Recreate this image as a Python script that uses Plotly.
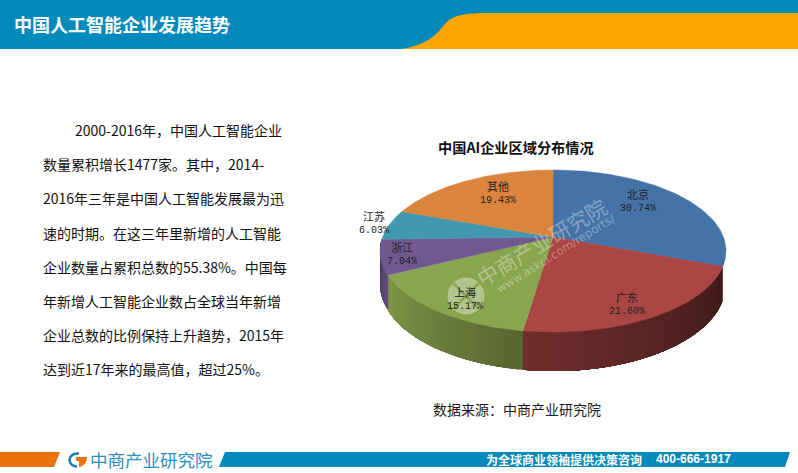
import numpy as np
import plotly.graph_objects as go

# pie data
regions = ['北京', '广东', '上海', '浙江', '江苏', '其他']
shares = [30.74, 21.60, 15.17, 7.04, 6.03, 19.43]
top_colors = ['#4572A7', '#AA4643', '#89A54E', '#71588F', '#4198AF', '#DB843D']
# side wall colours from the start of the slice to its end
side_colors = {
    1: ((62, 26, 24), (112, 46, 44)),
    2: ((88, 102, 48), (126, 150, 72)),
    3: ((96, 76, 124), (72, 56, 96)),
}

body_lines = [
    '2000-2016年，中国人工智能企业',
    '数量累积增长1477家。其中，2014-',
    '2016年三年是中国人工智能发展最为迅',
    '速的时期。在这三年里新增的人工智能',
    '企业数量占累积总数的55.38%。中国每',
    '年新增人工智能企业数占全球当年新增',
    '企业总数的比例保持上升趋势，2015年',
    '达到近17年来的最高值，超过25%。',
]

CJK = 'Noto Sans CJK SC'
TEAL = '#018ABB'
ORANGE = '#FFA500'

# perspective pie, in page pixels
CX, CY = 553, 237
RX, RY = 170.4, 78.6
TILT = 0.173
DEPTH = 32.3


def project(t, r=1.0, drop=0.0):
    # t is the clockwise angle from twelve o'clock
    u = r * np.sin(t)
    v = r * np.cos(t)
    w = 1 + TILT * v
    return CX + RX * u / w, CY + (drop - RY * v) / w


fig = go.Figure()

# side wall first, each strip runs to the slice end and the next one paints over it
bounds = np.cumsum([0] + shares) / sum(shares) * 2 * np.pi
for i, (c0, c1) in side_colors.items():
    start, end = bounds[i], bounds[i + 1]
    steps = max(4, int((end - start) / 0.02))
    edges = np.linspace(start, end, steps + 1)
    for k in range(steps):
        f = k / (steps - 1)
        rgb = [round(a + (b - a) * f) for a, b in zip(c0, c1)]
        ts = np.linspace(edges[k], end, 30)
        xt, yt = project(ts)
        xb, yb = project(ts[::-1], drop=DEPTH)
        fig.add_trace(go.Scatter(
            x=list(xt) + list(xb) + [xt[0]], y=list(yt) + list(yb) + [yt[0]],
            mode='lines', fill='toself', fillcolor='rgb(%d,%d,%d)' % tuple(rgb),
            line=dict(width=0), hoverinfo='skip'))

# top face
for i, name in enumerate(regions):
    ts = np.linspace(bounds[i], bounds[i + 1], 80)
    xs, ys = project(ts)
    fig.add_trace(go.Scatter(
        x=[CX] + list(xs) + [CX], y=[CY] + list(ys) + [CY],
        mode='lines', fill='toself', fillcolor=top_colors[i],
        line=dict(color=top_colors[i], width=0.5), name=name, hoverinfo='skip'))

annotations = []


def add_text(text, x, y, size, color='#000000', bold=False, family=CJK, xanchor='center', angle=0):
    if bold:
        text = '<b>' + text + '</b>'
    annotations.append(dict(
        text=text, x=x, y=y, xref='x', yref='y', xanchor=xanchor, yanchor='middle',
        showarrow=False, textangle=angle, font=dict(family=family, size=size, color=color)))


add_text('中国人工智能企业发展趋势', 12, 24, 18, '#FFFFFF', True, xanchor='left')
for i, line in enumerate(body_lines):
    add_text(line, 73 if i == 0 else 41, 130 + i * 34.2, 14, '#111111', xanchor='left')

add_text('中国AI企业区域分布情况', 516, 147, 14.2, '#111111', True)
add_text('数据来源：中商产业研究院', 517, 409, 14, '#1A1A1A')

# slice labels
label_pos = [(638, 201), (627, 304.5), (465, 299.5), (402, 254.5), (374, 223.5), (498, 193.5)]
for name, share, pos in zip(regions, shares, label_pos):
    add_text(name, pos[0], pos[1] - 7.25, 11, '#222222')
    add_text('%.2f%%' % share, pos[0], pos[1] + 7.25, 10, '#222222', family='Liberation Mono')

# watermark
WM = 'rgba(255,255,255,0.36)'
add_text('中商产业研究院', 541, 242, 21, WM, angle=-31)
add_text('www.askci.com/reports/', 555, 254, 11.5, WM, family='DejaVu Sans', angle=-32)

# footer text
add_text('中商产业研究院', 151, 459, 17.5, '#2A8FC0')
add_text('为全球商业领袖提供决策咨询', 564, 459, 12, '#FFFFFF', True)
add_text('400-666-1917', 693, 459, 12, '#FFFFFF', True, family='Liberation Sans')

shapes = [
    dict(type='rect', x0=0, x1=798, y0=0, y1=49, fillcolor=TEAL, line_width=0, layer='below'),
    dict(type='path', path='M 402 49 C 425 45 436 36 444 25 C 452 15 464 13 490 13 L 798 13 L 798 49 Z',
         fillcolor=ORANGE, line_width=0, layer='below'),
    dict(type='path', path='M 0 452 L 60 452 L 54 467 L 0 467 Z', fillcolor='#E8720C', line_width=0, layer='below'),
    dict(type='path', path='M 225 452 L 790 452 L 785 467 L 219 467 Z', fillcolor=TEAL, line_width=0, layer='below'),
    # footer logo
    dict(type='path', path='M 79 453.5 C 72 453 69.5 457 69.5 460 C 69.5 464 73 466.5 77 466.5',
         line=dict(color='#1E7FB0', width=2.5)),
    dict(type='path', path='M 76 457 L 87 457 C 87 462 84 466 79 467 L 79 461 L 76 461 Z',
         fillcolor='#E8720C', line_width=0),
    # watermark logo
    dict(type='circle', x0=447.5, x1=484.5, y0=277.5, y1=314.5, fillcolor=WM, line_width=0, layer='above'),
    dict(type='line', x0=453, x1=479, y0=283, y1=309, line=dict(color='#89A54E', width=2.5), layer='above'),
    dict(type='line', x0=479, x1=453, y0=283, y1=309, line=dict(color='#89A54E', width=2.5), layer='above'),
]

fig.update_layout(
    width=798, height=473,
    margin=dict(l=0, r=0, t=0, b=0),
    paper_bgcolor='#FFFFFF', plot_bgcolor='#FFFFFF',
    showlegend=False,
    xaxis=dict(range=[0, 798], visible=False, fixedrange=True),
    yaxis=dict(range=[473, 0], visible=False, fixedrange=True),
    shapes=shapes, annotations=annotations,
)

fig.write_html('out.html', config=dict(displayModeBar=False),
               post_script="document.body.style.margin='0';document.body.style.overflow='hidden';")
